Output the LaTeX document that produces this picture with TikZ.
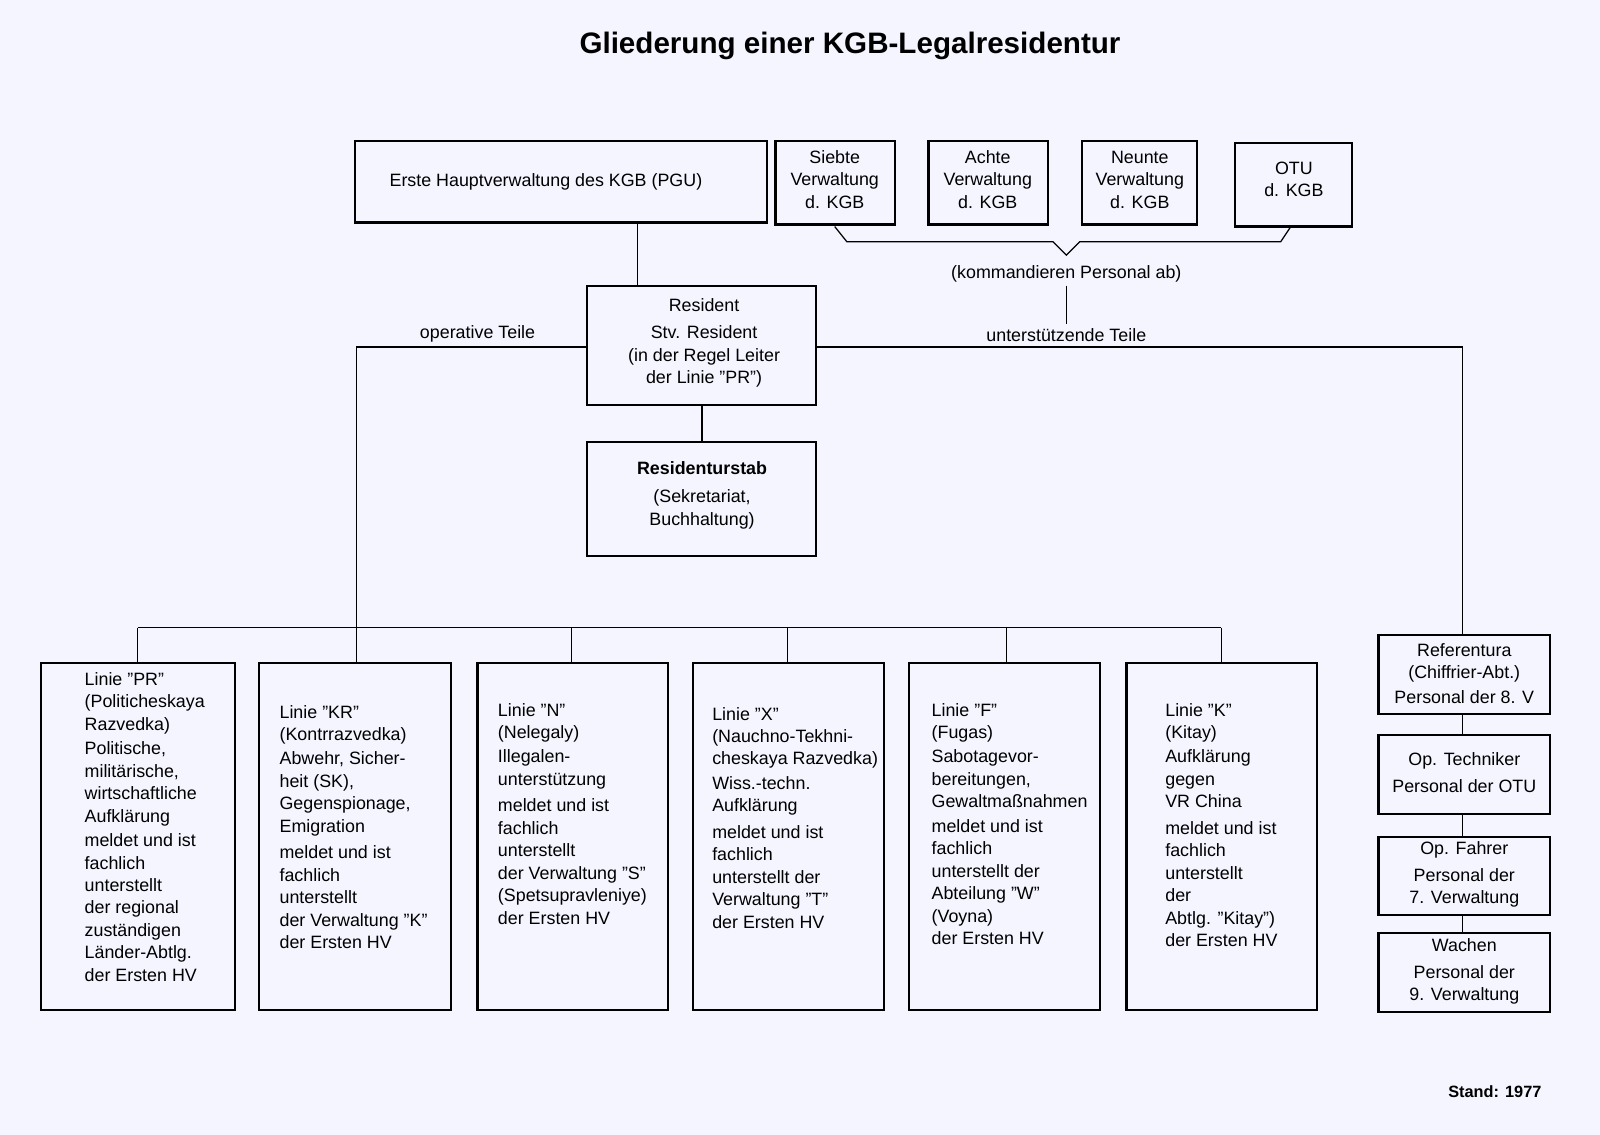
\documentclass[tikz,border=0pt]{standalone}
\usepackage{fontspec}
\setmainfont{Liberation Sans}
\begin{document}
\begin{tikzpicture}[x=1pt,y=-1pt,line width=2pt,
  bx/.style={draw,line width=2.2pt},
  tx/.style={font=\fontsize{17.5}{22}\selectfont,align=center,inner sep=0},
  lt/.style={font=\fontsize{17.5}{22}\selectfont,align=left,anchor=north west,inner sep=0}]
\useasboundingbox (0,0) rectangle (1568,1112);
\fill[white!96!blue] (0,0) rectangle (1568,1112);
\node[font=\fontsize{29}{32}\selectfont\bfseries] (title) at (833,45) {Gliederung einer KGB-Legalresidentur};
% top
\draw[bx] (348,138) rectangle (752,218); \node[tx] (pgu) at (535,178) {Erste Hauptverwaltung des KGB (PGU)};
\draw[bx] (760,138) rectangle (877,220); \node[tx] (v7) at (818,176) {Siebte\\Verwaltung\\d. KGB};
\draw[bx] (910,138) rectangle (1027,220); \node[tx] (v8) at (968,176) {Achte\\Verwaltung\\d. KGB};
\draw[bx] (1060,138) rectangle (1173,220); \node[tx] (v9) at (1117,176) {Neunte\\Verwaltung\\d. KGB};
\draw[bx] (1210,140) rectangle (1325,222); \node[tx] (otu) at (1268,176) {OTU\\d. KGB};
\draw[line width=1.2pt] (818,222) -- (830,237) -- (1032,237) -- (1045,250) -- (1058,237) -- (1255,237) -- (1265,222);
\node[tx] (komm) at (1045,268) {(kommandieren Personal ab)};
\draw[line width=1.2pt] (1045,280) -- (1045,318);
% resident
\draw[bx] (575,280) rectangle (800,397);
\node[tx] (res) at (690,336) {Resident\\[5pt]Stv. Resident\\(in der Regel Leiter\\der Linie "PR")};
\draw[line width=1.2pt] (625,218) -- (625,280);
\draw[bx] (575,433) rectangle (800,545);
\node[tx] (stab) at (688,485) {\textbf{Residenturstab}\\[6pt](Sekretariat,\\Buchhaltung)};
\draw[line width=1.2pt] (688,397) -- (688,433);
\draw[line width=1.2pt] (575,340) -- (349,340) -- (349,615);
\node[tx] (op) at (468,327) {operative Teile};
\draw[line width=1.2pt] (800,340) -- (1433,340) -- (1433,622);
\node[tx] (unt) at (1045,328) {unterstützende Teile};
\draw[line width=1.2pt] (135,615) -- (1197,615);
\foreach \x in {135,349,560,772,986,1197} \draw[line width=1.2pt] (\x,615) -- (\x,650);
% bottom boxes
\draw[bx] (40,650) rectangle (230,990);
\draw[bx] (254,650) rectangle (442,990);
\draw[bx] (468,650) rectangle (655,990);
\draw[bx] (679,650) rectangle (866,990);
\draw[bx] (891,650) rectangle (1078,990);
\draw[bx] (1104,650) rectangle (1291,990);
\node[lt] (pr) at (82,658) {Linie "PR"\\(Politicheskaya\\Razvedka)\\[2pt]Politische,\\militärische,\\wirtschaftliche\\Aufklärung\\[2pt]meldet und ist\\fachlich\\unterstellt\\der regional\\zuständigen\\Länder-Abtlg.\\der Ersten HV};
\node[lt] (kr) at (273,690) {Linie "KR"\\(Kontrrazvedka)\\[2pt]Abwehr, Sicher-\\heit (SK),\\Gegenspionage,\\Emigration\\[4pt]meldet und ist\\fachlich\\unterstellt\\der Verwaltung "K"\\der Ersten HV};
\node[lt] (n) at (487,688) {Linie "N"\\(Nelegaly)\\[2pt]Illegalen-\\unterstützung\\[4pt]meldet und ist\\fachlich\\unterstellt\\der Verwaltung "S"\\(Spetsupravleniye)\\der Ersten HV};
\node[lt] (x) at (697,692) {Linie "X"\\(Nauchno-Tekhni-\\cheskaya Razvedka)\\[2pt]Wiss.-techn.\\Aufklärung\\[4pt]meldet und ist\\fachlich\\unterstellt der\\Verwaltung "T"\\der Ersten HV};
\node[lt] (f) at (912,688) {Linie "F"\\(Fugas)\\[2pt]Sabotagevor-\\bereitungen,\\Gewaltmaßnahmen\\[2pt]meldet und ist\\fachlich\\unterstellt der\\Abteilung "W"\\(Voyna)\\der Ersten HV};
\node[lt] (k) at (1141,688) {Linie "K"\\(Kitay)\\[2pt]Aufklärung\\gegen\\VR China\\[4pt]meldet und ist\\fachlich\\unterstellt\\der\\Abtlg. "Kitay")\\der Ersten HV};
% right column
\draw[bx] (1351,622) rectangle (1519,700); \node[tx] (ref) at (1435,660) {Referentura\\(Chiffrier-Abt.)\\[2pt]Personal der 8. V};
\draw[bx] (1351,720) rectangle (1519,798); \node[tx] (tech) at (1435,757) {Op. Techniker\\[4pt]Personal der OTU};
\draw[bx] (1351,820) rectangle (1519,897); \node[tx] (fahr) at (1435,857) {Op. Fahrer\\[4pt]Personal der\\7. Verwaltung};
\draw[bx] (1351,914) rectangle (1519,992); \node[tx] (wach) at (1435,952) {Wachen\\[4pt]Personal der\\9. Verwaltung};
\draw[line width=1.2pt] (1433,700) -- (1433,720) (1433,798) -- (1433,820) (1433,897) -- (1433,914);
\node[font=\fontsize{16}{18}\selectfont\bfseries] (stand) at (1465,1070) {Stand: 1977};
\end{tikzpicture}
\end{document}
